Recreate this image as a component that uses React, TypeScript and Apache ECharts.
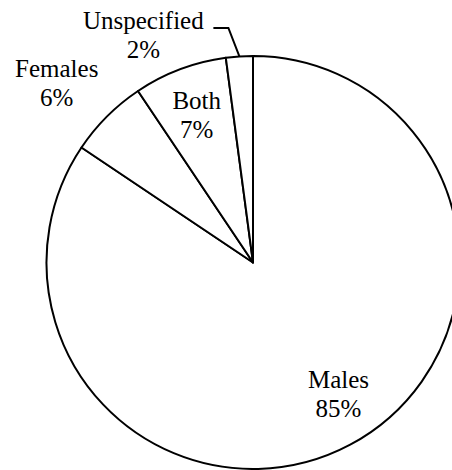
import React, { useEffect, useRef } from "react";
import * as echarts from "echarts";

const CATEGORIES = ["Males", "Females", "Both", "Unspecified"];
const VALUES = [84.4, 6.2, 7.3, 2.1];

// layout constants (pixels)
const CENTER: [number, number] = [253, 262.5];
const RADIUS = 206.5;
const LABEL_CENTERS: Record<string, [number, number]> = {
  Males: [338.5, 394],
  Females: [56.7, 83.3],
  Both: [196.7, 115],
  Unspecified: [143.3, 35],
};
const LEADER = { rise: 28.5, run: 11, tail: 15 };

export default function App() {
  const ref = useRef<HTMLDivElement>(null);
  useEffect(() => {
    if (!ref.current) return;
    const chart = echarts.init(ref.current, undefined, { renderer: "svg" });
    const total = VALUES.reduce((a, b) => a + b, 0);
    const midAngle = (idx: number) => {
      let before = 0;
      for (let i = 0; i < idx; i++) before += VALUES[i];
      const mid = (before + VALUES[idx] / 2) / total; // fraction clockwise from top
      return mid * Math.PI * 2;
    };
    const font = "'Liberation Serif', 'Times New Roman', serif";
    chart.setOption({
      animation: false,
      backgroundColor: "#ffffff",
      series: [
        {
          type: "pie",
          center: CENTER,
          radius: RADIUS,
          startAngle: 90,
          clockwise: true,
          percentPrecision: 0,
          avoidLabelOverlap: false,
          silent: true,
          emphasis: { disabled: true },
          itemStyle: { color: "#ffffff", borderColor: "#000000", borderWidth: 2 },
          label: {
            show: true,
            position: "outside",
            formatter: "{b}\n{d}%",
            color: "#000000",
            fontFamily: font,
            fontSize: 25,
            lineHeight: 29,
            align: "center",
          },
          labelLine: { show: false, lineStyle: { color: "#000000", width: 2 } },
          data: CATEGORIES.map((name, i) => ({
            name,
            value: VALUES[i],
            labelLine: { show: name === "Unspecified", lineStyle: { color: "#000000", width: 2 } },
          })),
          labelLayout: (params: any) => {
            const name = CATEGORIES[params.dataIndex];
            const c = LABEL_CENTERS[name];
            const out: any = { x: c[0], y: c[1], align: "center", verticalAlign: "middle" };
            if (name === "Unspecified") {
              const a = midAngle(params.dataIndex);
              const p0 = [CENTER[0] + RADIUS * Math.sin(a), CENTER[1] - RADIUS * Math.cos(a)];
              const p1 = [p0[0] - LEADER.run, p0[1] - LEADER.rise];
              const p2 = [p1[0] - LEADER.tail, p1[1]];
              out.labelLinePoints = [p0, p1, p2];
            }
            return out;
          },
        },
      ],
    });
    return () => chart.dispose();
  }, []);
  return (
    <div
      ref={ref}
      style={{ position: "absolute", left: 0, top: 0, width: 452, height: 470 }}
    />
  );
}
